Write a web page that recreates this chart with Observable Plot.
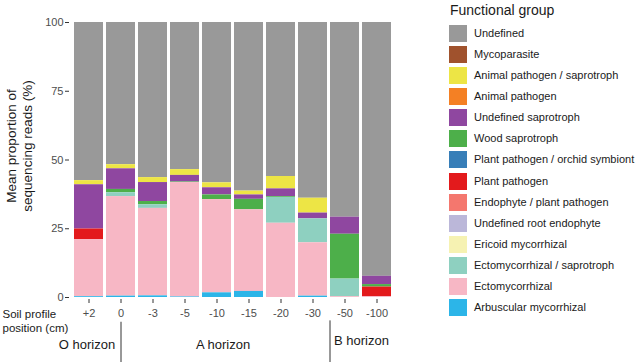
<!DOCTYPE html>
<html><head><meta charset="utf-8">
<script src="https://cdn.jsdelivr.net/npm/d3@7"></script>
<script src="https://cdn.jsdelivr.net/npm/@observablehq/plot@0.6"></script>
<style>
body{margin:0;background:#fff;font-family:"Liberation Sans",Arial,sans-serif;}
#wrap{position:relative;width:640px;height:362px;overflow:hidden;}
#legend{position:absolute;left:449px;top:0;width:191px;height:362px;color:#1a1a1a;}
#legend .title{position:absolute;left:1px;top:2px;font-size:14px;line-height:17px;white-space:nowrap;}
#legend .row{position:absolute;left:0;height:17px;white-space:nowrap;}
#legend .sw{position:absolute;left:0;top:0;width:18px;height:17px;}
#legend .lab{position:absolute;left:25px;top:0;font-size:11px;line-height:17px;}
#ylab{position:absolute;left:20px;top:146px;transform:translate(-50%,-50%) rotate(-90deg);font-size:13.5px;line-height:16px;text-align:center;white-space:pre;color:#1a1a1a;}
</style></head><body>
<div id="wrap"><div id="chart"></div><div id="ylab"></div><div id="legend"></div></div>
<script>
// Categories
const positions = ["+2","0","-3","-5","-10","-15","-20","-30","-50","-100"];
// Legend order (top to bottom) = stack order top to bottom
const groups = ["Undefined","Mycoparasite","Animal pathogen / saprotroph","Animal pathogen","Undefined saprotroph","Wood saprotroph","Plant pathogen / orchid symbiont","Plant pathogen","Endophyte / plant pathogen","Undefined root endophyte","Ericoid mycorrhizal","Ectomycorrhizal / saprotroph","Ectomycorrhizal","Arbuscular mycorrhizal"];
const colors = ["#999999","#a0522d","#ede545","#f48024","#8f47a0","#4daf4a","#377eb8","#e31a1c","#f4776e","#bbb7d9","#f6f2b2","#8ed0c0","#f7b7c5","#2cb5e8"];

// Series values (% per position)
const undefinedV    = [57.5,51.7,56.4,53.5,58.3,61.3,56.0,63.9,70.8,92.3];
const mycoparasite  = [0,0,0,0,0,0,0,0,0,0];
const animalPathSap = [1.5,1.5,1.8,2.1,1.8,1.4,4.5,5.4,0,0];
const animalPath    = [0,0,0,0,0,0,0,0,0,0];
const undefinedSap  = [16.1,7.5,6.9,2.4,2.6,1.6,2.8,2.1,6.2,3.0];
const woodSap       = [0,1.2,1.2,0.2,1.7,3.8,0.3,0,16.3,0.9];
const orchid        = [0,0,0,0,0,0,0,0,0,0];
const plantPath     = [3.9,0,0,0,0,0,0,0,0,3.5];
const endoPlant     = [0,0,0,0,0,0,0,0,0,0];
const rootEndo      = [0,0,0,0,0,0,0,0,0,0];
const ericoid       = [0,0,0,0,0,0,0,0,0,0];
const ectoSap       = [0,1.4,1.3,0,0,0,9.4,8.7,6.4,0];
const ecto          = [20.7,36.2,31.8,41.6,33.9,29.7,27.0,19.4,0.3,0.3];
const arbuscular    = [0.3,0.5,0.6,0.2,1.7,2.2,0,0.5,0,0];

const series = [undefinedV,mycoparasite,animalPathSap,animalPath,undefinedSap,woodSap,orchid,plantPath,endoPlant,rootEndo,ericoid,ectoSap,ecto,arbuscular];

const yTicks = [0,25,50,75,100];
const yLabel = "Mean proportion of\nsequencing reads (%)";
const xLabel = "Soil profile\nposition (cm)";
const boundaries = ["0"];
const boundaries2 = ["-30"];

const long = [];
groups.forEach((g,gi)=>positions.forEach((p,pi)=>{
  long.push({group:g, position:p, value:series[gi][pi]});
}));
const stackOrder = groups.slice().reverse();

const txt = "#1a1a1a";
const chart = Plot.plot({
  width:640, height:362,
  marginLeft:69, marginRight:244, marginTop:22, marginBottom:63,
  x:{domain:positions, padding:0.1, label:null},
  y:{domain:[0,100], insetBottom:2, label:null},
  color:{domain:groups, range:colors},
  style:{fontFamily:'"Liberation Sans",Arial,sans-serif', fontSize:"11px", color:"#4d4d4d", background:"#fff"},
  marks:[
    Plot.barY(long,{x:"position", y:"value", fill:"group", order:stackOrder}),
    Plot.axisY({ticks:yTicks, tickSize:4, tickPadding:2, label:null, stroke:"#333"}),
    Plot.axisX({tickSize:4, tickPadding:6, label:null, stroke:"#333"}),
    Plot.text([xLabel],{text:d=>d, frameAnchor:"bottom-left", textAnchor:"start", lineAnchor:"top", dx:-67, dy:9, fontSize:11.5, fill:txt, lineHeight:1.2}),
    Plot.ruleX(boundaries,{x:d=>d, y1:-9, y2:-24, stroke:"#333", strokeWidth:1}),
    Plot.ruleX(boundaries2,{x:d=>d, dx:17, y1:-8.5, y2:-24, stroke:"#333", strokeWidth:1}),
    Plot.text(["O horizon"],{x:()=>"+2", text:d=>d, frameAnchor:"bottom", dy:49, dx:-2, fontSize:13, fill:txt}),
    Plot.text(["A horizon"],{x:()=>"-10", text:d=>d, frameAnchor:"bottom", dy:49, dx:6, fontSize:13, fill:txt}),
    Plot.text(["B horizon"],{x:()=>"-50", text:d=>d, frameAnchor:"bottom", textAnchor:"start", dy:45.5, dx:-11, fontSize:13, fill:txt})
  ]
});
document.getElementById("chart").appendChild(chart);
document.getElementById("ylab").textContent = yLabel;

const lg = document.getElementById("legend");
const t = document.createElement("div"); t.className="title"; t.textContent="Functional group"; lg.appendChild(t);
groups.forEach((g,i)=>{
  const r = document.createElement("div"); r.className="row"; r.style.top=(25+i*21.08)+"px";
  const s = document.createElement("div"); s.className="sw"; s.style.background=colors[i];
  const l = document.createElement("div"); l.className="lab"; l.textContent=g;
  r.appendChild(s); r.appendChild(l); lg.appendChild(r);
});
</script></body></html>
